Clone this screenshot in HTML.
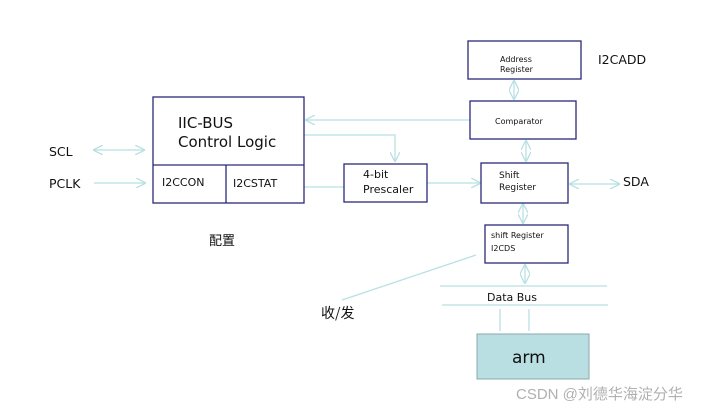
<!DOCTYPE html>
<html><head><style>body{margin:0;background:#fff}svg{display:block}text{font-family:"DejaVu Sans","Liberation Sans",sans-serif;fill:#111}</style></head><body>
<svg width="713" height="410" viewBox="0 0 713 410" xmlns="http://www.w3.org/2000/svg">
<defs>
<marker id="a" viewBox="0 0 10 10" refX="10" refY="5" markerWidth="10" markerHeight="10" orient="auto-start-reverse" markerUnits="userSpaceOnUse"><path d="M0,0 L10,5 L0,10" fill="none" stroke="#b8e0e4" stroke-width="1.3"/></marker>
</defs>
<g stroke="#b8e0e4" stroke-width="1.3" fill="none">
<line x1="93" y1="150" x2="145" y2="150" marker-start="url(#a)" marker-end="url(#a)"/>
<line x1="94" y1="183" x2="146" y2="183" marker-end="url(#a)"/>
<line x1="470" y1="120" x2="305" y2="120" marker-end="url(#a)"/>
<polyline points="304,135 395,135 395,162" marker-end="url(#a)"/>
<line x1="304" y1="187" x2="344" y2="187"/>
<line x1="427" y1="183" x2="481" y2="183" marker-end="url(#a)"/>
<line x1="514" y1="80" x2="514" y2="100" marker-start="url(#a)" marker-end="url(#a)"/>
<line x1="526" y1="140" x2="526" y2="162" marker-start="url(#a)" marker-end="url(#a)"/>
<line x1="569" y1="184" x2="620" y2="184" marker-start="url(#a)" marker-end="url(#a)"/>
<line x1="523" y1="203" x2="523" y2="224" marker-start="url(#a)" marker-end="url(#a)"/>
<line x1="525" y1="264" x2="525" y2="284" marker-start="url(#a)" marker-end="url(#a)"/>
<line x1="440" y1="286" x2="607" y2="286"/>
<line x1="442" y1="305" x2="608" y2="305"/>
<line x1="500" y1="309" x2="500" y2="331"/>
<line x1="529" y1="309" x2="529" y2="331"/>
<line x1="476" y1="255" x2="342" y2="300"/>
</g>
<g stroke="#2b2a7a" stroke-width="1.3" fill="none">
<rect x="153" y="97" width="151" height="106"/>
<line x1="153" y1="165" x2="304" y2="165"/>
<line x1="226" y1="165" x2="226" y2="203"/>
<rect x="468" y="41" width="113" height="38"/>
<rect x="470" y="101" width="106" height="38"/>
<rect x="481" y="163" width="87" height="40"/>
<rect x="485" y="225" width="83" height="38"/>
<rect x="344" y="164" width="83" height="38"/>
</g>
<rect x="477" y="334" width="112" height="45" fill="#b9dfe2" stroke="#8aa9aa" stroke-width="1"/>
<text x="178" y="128" font-size="15">IIC-BUS</text>
<text x="178" y="147" font-size="15">Control Logic</text>
<text x="162" y="186" font-size="11">I2CCON</text>
<text x="233" y="187" font-size="11">I2CSTAT</text>
<text x="49" y="156" font-size="12.5">SCL</text>
<text x="49" y="188" font-size="12.5">PCLK</text>
<text x="363" y="178" font-size="11">4-bit</text>
<text x="363" y="193" font-size="11">Prescaler</text>
<text x="500" y="62" font-size="8">Address</text>
<text x="500" y="72" font-size="8">Register</text>
<text x="598" y="64" font-size="12.5">I2CADD</text>
<text x="495" y="124" font-size="8">Comparator</text>
<text x="499" y="178" font-size="9">Shift</text>
<text x="499" y="190" font-size="9">Register</text>
<text x="623" y="186" font-size="12.5">SDA</text>
<text x="491" y="238" font-size="8">shift Register</text>
<text x="491" y="251" font-size="8">I2CDS</text>
<text x="487" y="301" font-size="11">Data Bus</text>
<text x="512" y="363" font-size="17">arm</text>
<text x="209" y="245" font-size="13" style="font-family:'Noto Sans CJK SC',sans-serif">配置</text>
<text x="321" y="318" font-size="14" style="font-family:'Noto Sans CJK SC',sans-serif">收/发</text>
<text x="516" y="399" font-size="15" style="fill:#b0b0b0;font-family:'Liberation Sans','Noto Sans CJK SC',sans-serif">CSDN @刘德华海淀分华</text>
</svg>
</body></html>
